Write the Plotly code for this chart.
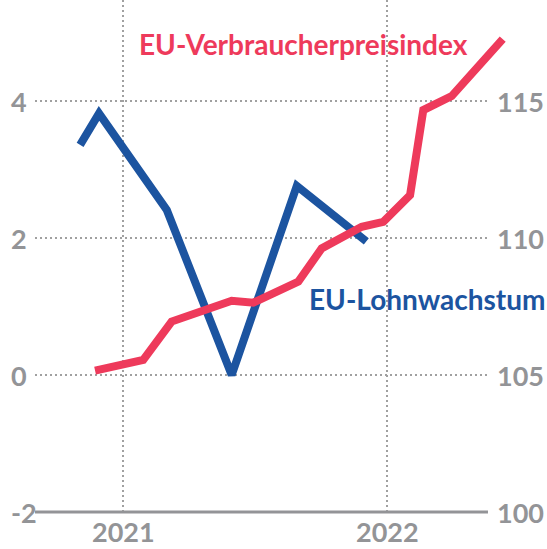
import plotly.graph_objects as go

# ---- data (x = months relative to January 2021) ----
cpi_month = [-1.27, 0.92, 2.21, 4.94, 5.92, 7.97, 9.03, 10.85, 11.83, 13.05, 13.65, 14.94, 17.26]
cpi_index = [105.16, 105.55, 106.95, 107.71, 107.64, 108.41, 109.62, 110.41, 110.59, 111.57, 114.67, 115.18, 117.26]

wage_month = [-1.95, -1.09, 1.99, 4.94, 7.90, 11.06]
wage_growth = [3.36, 3.82, 2.41, 0.0, 2.76, 1.95]

left_ticks = [-2, 0, 2, 4]
right_ticks = [100, 105, 110, 115]
year_ticks = [0, 12]
year_labels = ["2021", "2022"]

RED = "#ee3a5b"
BLUE = "#1c54a0"
GRAY = "#939497"
GRID = "#a0a0a0"
FONT = "Lato"

W, H = 547, 549
X0 = 123                     # pixel of Jan 2021
Y0 = 375                     # pixel of left 0 / right 105
PX_M = 22.0                  # pixels per month
PX_L = 68.5                  # pixels per left unit
PX_R = 27.4                  # pixels per right unit
grid_x0, grid_x1 = -4.0, 16.59
ytop = Y0 / PX_L


def px(p):
    return p / W


def py(p):
    return 1 - p / H


fig = go.Figure()
fig.add_trace(go.Scatter(x=cpi_month, y=cpi_index, mode="lines", yaxis="y2",
                         line=dict(color=RED, width=8), hoverinfo="skip"))
fig.add_trace(go.Scatter(x=wage_month, y=wage_growth, mode="lines", yaxis="y",
                         line=dict(color=BLUE, width=8), hoverinfo="skip"))

shapes = []
for v in left_ticks[1:]:
    shapes.append(dict(type="line", xref="x", yref="y", x0=grid_x0, x1=grid_x1, y0=v, y1=v,
                       line=dict(color=GRID, width=2, dash="2px,3px"), layer="below"))
for v in year_ticks:
    shapes.append(dict(type="line", xref="x", yref="y", x0=v, x1=v, y0=left_ticks[0], y1=ytop,
                       line=dict(color=GRID, width=2, dash="2px,3px"), layer="below"))
shapes.append(dict(type="line", xref="x", yref="y", x0=grid_x0, x1=grid_x1,
                   y0=left_ticks[0], y1=left_ticks[0], line=dict(color=GRAY, width=3), layer="below"))

ann = []
for v in left_ticks:
    ann.append(dict(x=px(9), xref="paper", y=v, yref="y", text=str(v), showarrow=False,
                    xanchor="left", yanchor="middle",
                    font=dict(family=FONT, size=27, color=GRAY, weight=700)))
for v in right_ticks:
    ann.append(dict(x=px(495), xref="paper", y=v, yref="y2", text=str(v), showarrow=False,
                    xanchor="left", yanchor="middle",
                    font=dict(family=FONT, size=27, color=GRAY, weight=700)))
for v, t in zip(year_ticks, year_labels):
    ann.append(dict(x=v, xref="x", y=0, yref="paper", text=t, showarrow=False,
                    xanchor="center", yanchor="bottom", borderpad=0,
                    font=dict(family=FONT, size=27, color=GRAY, weight=700)))
ann.append(dict(x=px(137), xref="paper", y=py(44), yref="paper", text="EU-Verbraucherpreisindex",
                showarrow=False, xanchor="left", yanchor="middle",
                font=dict(family=FONT, size=28, color=RED, weight=700)))
ann.append(dict(x=px(307), xref="paper", y=py(299), yref="paper", text="EU-Lohnwachstum",
                showarrow=False, xanchor="left", yanchor="middle",
                font=dict(family=FONT, size=28, color=BLUE, weight=700)))

fig.update_layout(
    width=W, height=H,
    margin=dict(l=0, r=0, t=0, b=0),
    paper_bgcolor="white", plot_bgcolor="white",
    showlegend=False,
    xaxis=dict(range=[-X0 / PX_M, (W - X0) / PX_M], visible=False, fixedrange=True),
    yaxis=dict(range=[(Y0 - H) / PX_L, Y0 / PX_L], visible=False, fixedrange=True),
    yaxis2=dict(range=[105 - (H - Y0) / PX_R, 105 + Y0 / PX_R], overlaying="y", side="right",
                visible=False, fixedrange=True),
    shapes=shapes, annotations=ann,
)

fig.write_html("out.html", config={"displayModeBar": False},
               post_script="document.body.style.margin='0';document.body.style.overflow='hidden';")
